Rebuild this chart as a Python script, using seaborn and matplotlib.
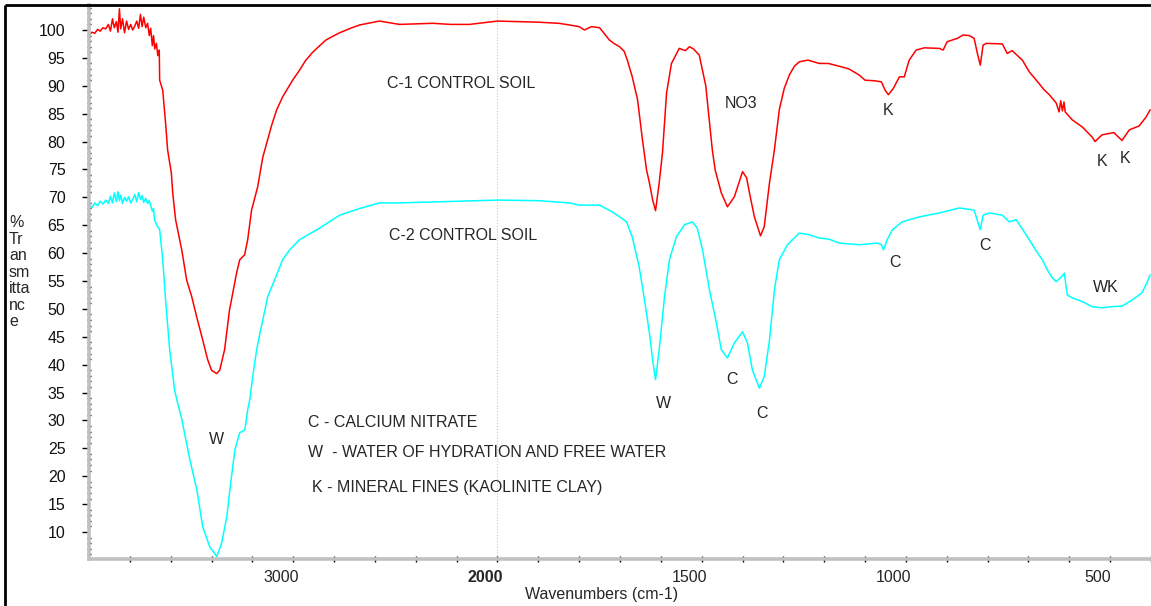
import numpy as np
import pandas as pd
import matplotlib
matplotlib.use("Agg")
import matplotlib.pyplot as plt
from matplotlib.lines import Line2D
from matplotlib.ticker import FixedLocator
from matplotlib.transforms import ScaledTranslation
import seaborn as sns

# ---------------- data ----------------
c1_wavenumber = [3998, 3985, 3972, 3958, 3945, 3932, 3918, 3905, 3895, 3885, 3876, 3866, 3858, 3851,
                 3845, 3836, 3826, 3816, 3806, 3796, 3786, 3776, 3766, 3757, 3748, 3740, 3732, 3722,
                 3713, 3705, 3698, 3690, 3684, 3678, 3670, 3663, 3656, 3654, 3639, 3625, 3615, 3597,
                 3590, 3576, 3546, 3522, 3497, 3473, 3443, 3419, 3400, 3375, 3360, 3336, 3312, 3277,
                 3262, 3238, 3223, 3204, 3174, 3149, 3130, 3105, 3081, 3052, 3003, 2969, 2940, 2905,
                 2870, 2840, 2810, 2773, 2720, 2675, 2620, 2577, 2530, 2480, 2400, 2318, 2230, 2137,
                 2070, 2000, 1946, 1900, 1850, 1824,
                 1800, 1787, 1770, 1750, 1740, 1726, 1715, 1701, 1690, 1682, 1670, 1657, 1645, 1635,
                 1628, 1620, 1613, 1604, 1596, 1586, 1574, 1555, 1540, 1530, 1520, 1506, 1490, 1474,
                 1467, 1452, 1437, 1420, 1400, 1390, 1383, 1371, 1356, 1347, 1334, 1322, 1310, 1298,
                 1285, 1273, 1261, 1240, 1212, 1190, 1163, 1139, 1114, 1100, 1077, 1060, 1051, 1043,
                 1031, 1016, 1004, 992, 975, 955, 918, 909, 899, 874, 860, 845, 833, 825, 818, 811,
                 803, 764, 752, 740, 715, 698, 690, 674, 662, 649, 632, 625, 621, 617, 613, 610, 593,
                 568, 544, 537, 520, 491, 471, 453, 429, 412, 402]
c1_transmittance = [99.2, 99.6, 99.4, 100.1, 99.8, 100.4, 100.2, 101.0, 99.8, 102.0, 100.4, 101.5, 99.6, 103.8,
                    100.2, 102.0, 99.5, 101.6, 100.1, 101.0, 100.0, 100.7, 101.6, 100.3, 102.8, 100.6, 102.3, 100.4,
                    101.2, 99.0, 100.3, 97.2, 99.0, 96.6, 97.6, 95.4, 96.4, 91.0, 89.2, 83.3, 78.5, 74.4,
                    70.8, 66.0, 60.6, 55.2, 52.2, 48.6, 44.4, 40.9, 39.0, 38.4, 39.0, 42.7, 49.8, 56.5,
                    58.8, 59.7, 62.4, 67.7, 71.9, 77.2, 79.7, 83.0, 85.7, 88.0, 91.0, 92.8, 94.5, 96.0,
                    97.2, 98.2, 98.8, 99.5, 100.3, 100.9, 101.3, 101.6, 101.3, 101.0, 101.1, 101.2, 101.0, 101.0,
                    101.3, 101.6, 101.5, 101.4, 101.2, 100.9,
                    100.6, 100.0, 100.6, 100.4, 99.5, 98.2, 97.6, 97.0, 96.2, 94.6, 91.6, 87.5, 80.3, 74.9,
                    72.6, 69.5, 67.6, 72.6, 78.0, 88.7, 94.0, 96.7, 96.3, 97.0, 96.6, 95.5, 90.0, 78.5,
                    74.9, 70.8, 68.3, 70.1, 74.6, 73.5, 70.8, 66.5, 63.1, 64.7, 72.6, 78.5, 85.7, 89.5,
                    92.0, 93.5, 94.3, 94.6, 94.0, 94.0, 93.5, 93.0, 91.9, 91.0, 90.9, 90.7, 89.2, 88.4,
                    89.5, 91.6, 91.6, 94.6, 96.4, 96.8, 96.7, 96.4, 97.9, 98.5, 99.1, 99.0, 98.5, 95.8, 93.7, 97.3,
                    97.6, 97.5, 95.8, 96.3, 94.6, 92.5, 91.8, 90.4, 89.3, 88.4, 86.9, 85.3, 87.3, 85.5, 87.1, 85.3, 83.9,
                    82.6, 80.8, 80.0, 81.2, 81.6, 80.2, 82.1, 82.8, 84.4, 85.7]

c2_wavenumber = [3998, 3985, 3972, 3958, 3945, 3932, 3918, 3905, 3895, 3885, 3876, 3866, 3858, 3851,
                 3845, 3836, 3826, 3816, 3806, 3796, 3786, 3776, 3766, 3757, 3748, 3740, 3732, 3722,
                 3713, 3705, 3698, 3690, 3684, 3679, 3668, 3654, 3639, 3625, 3605, 3581, 3570, 3545,
                 3506, 3472, 3443, 3408, 3374, 3350, 3325, 3310, 3286, 3262, 3237, 3223, 3213, 3196,
                 3179, 3164, 3149, 3125, 3091, 3052, 3017, 2969, 2870, 2773, 2675, 2577, 2480, 2382,
                 2290, 2186, 2100, 2000, 1900, 1824, 1799, 1750, 1719, 1701, 1684, 1670, 1653, 1640,
                 1628, 1620, 1613, 1604, 1591, 1579, 1562, 1542, 1523, 1511, 1498, 1481, 1464, 1452,
                 1437, 1420, 1400, 1388, 1376, 1359, 1347, 1334, 1322, 1310, 1290, 1261, 1237, 1212,
                 1188, 1163, 1114, 1070, 1060, 1055, 1046, 1033, 1009, 967, 918, 869, 833, 823, 818,
                 811, 796, 764, 747, 730, 698, 682, 666, 654, 642, 632, 620, 612, 608, 605, 593, 568,
                 544, 520, 495, 471, 446, 422, 410, 402]
c2_transmittance = [68.6, 68.2, 69.0, 68.5, 69.3, 68.8, 69.5, 68.9, 70.2, 69.0, 70.8, 69.2, 71.0, 69.4,
                    70.4, 68.9, 70.0, 69.3, 70.1, 69.0, 69.6, 70.5, 69.2, 70.9, 69.6, 70.3, 69.1, 69.8,
                    68.9, 69.4, 68.6, 67.5, 68.0, 66.0, 65.0, 64.2, 58.8, 51.6, 42.7, 35.5, 33.7, 30.1,
                    22.9, 17.6, 10.9, 7.3, 5.6, 8.1, 12.8, 17.6, 24.7, 27.8, 28.3, 31.9, 33.7, 38.5,
                    42.7, 45.5, 48.0, 52.2, 55.2, 58.8, 60.6, 62.4, 64.5, 66.8, 68.0, 69.0, 69.0, 69.1,
                    69.2, 69.3, 69.4, 69.5, 69.4, 69.0, 68.6, 68.6, 67.4, 66.5, 65.6, 62.9, 57.5, 51.6,
                    45.7, 40.8, 37.3, 42.7, 52.2, 58.8, 62.9, 65.1, 65.6, 64.5, 60.6, 53.4, 47.5, 42.7,
                    41.2, 43.9, 45.9, 43.9, 39.1, 35.8, 37.8, 44.4, 53.4, 58.8, 61.5, 63.6, 63.3, 62.7,
                    62.5, 61.8, 61.5, 61.8, 61.5, 60.6, 62.4, 64.2, 65.6, 66.5, 67.2, 68.1, 67.7, 65.4, 64.2,
                    66.8, 67.2, 66.8, 65.6, 66.0, 62.4, 60.5, 58.8, 57.0, 55.6, 54.9, 55.7, 56.4, 54.0, 52.5, 52.0, 51.3,
                    50.4, 50.2, 50.4, 50.5, 51.6, 52.9, 54.7, 56.1]

y_major_ticks = list(range(10, 101, 5))
x_major_ticks = [3000, 2000, 1500, 1000, 500]
x_minor_ticks = [3800, 3600, 3400, 3200, 2800, 2600, 2400, 2200,
                 1900, 1800, 1700, 1600, 1400, 1300, 1200, 1100, 900, 800, 700, 600, 400]
x_tick_labels = ["3000", "2000", "1500", "1000", "500"]

# ---------------- styling ----------------
sns.set_theme(style="white")
plt.rcParams["font.family"] = ["Liberation Sans", "DejaVu Sans"]

df1 = pd.DataFrame({"wn": c1_wavenumber, "T": c1_transmittance})
df2 = pd.DataFrame({"wn": c2_wavenumber, "T": c2_transmittance})

W, H = 1151, 606
fig = plt.figure(figsize=(W / 100, H / 100), dpi=100)
ax = fig.add_axes([89 / W, 47 / H, 1 - 89 / W, 1 - 5 / H - 47 / H])


def fwd(x):
    x = np.asarray(x, dtype=float)
    return np.where(x <= 2000, x, 2000 + (x - 2000) / 2.0)


def inv(y):
    y = np.asarray(y, dtype=float)
    return np.where(y <= 2000, y, 2000 + (y - 2000) * 2.0)


ax.set_xscale("function", functions=(fwd, inv))

sns.lineplot(data=df1, x="wn", y="T", ax=ax, color="#ff0000", lw=1.1,
             sort=False, estimator=None)
sns.lineplot(data=df2, x="wn", y="T", ax=ax, color="#00ffff", lw=1.1,
             sort=False, estimator=None)

ax.set_xlim(4000, 400)
ax.set_ylim(5.16, 104.48)
ax.axvline(2000, color="#c8c8c8", ls=":", lw=0.8, zorder=0)

for s in ["top", "right"]:
    ax.spines[s].set_visible(False)
for s in ["left", "bottom"]:
    ax.spines[s].set_color("#c0c0c0")
    ax.spines[s].set_linewidth(2.6)

ax.xaxis.set_major_locator(FixedLocator(x_major_ticks))
ax.xaxis.set_minor_locator(FixedLocator(x_minor_ticks))
ax.set_xticklabels(x_tick_labels)
ax.yaxis.set_major_locator(FixedLocator(y_major_ticks))
ax.yaxis.set_minor_locator(FixedLocator(list(range(6, 105))))

ax.tick_params(axis="x", which="both", direction="inout", length=4, width=1.0,
               color="black", labelsize=11.5, pad=6, bottom=True)
ax.tick_params(axis="y", which="major", direction="out", length=5, width=1.0,
               color="black", labelsize=11.5, pad=12, left=True)
ax.tick_params(axis="y", which="minor", direction="inout", length=3, width=1.0,
               color="black", left=True)
for lab in ax.get_xticklabels():
    lab.set_transform(lab.get_transform() + ScaledTranslation(-0.12, 0, fig.dpi_scale_trans))
    if lab.get_text() == "2000":
        lab.set_fontweight("bold")
for lab in ax.get_yticklabels():
    lab.set_color("#111111")

ax.set_xlabel("")
ax.set_ylabel("")
ax.grid(False)

# axis titles
fig.text(602 / W, 1 - 595 / H, "Wavenumbers (cm-1)", ha="center", va="center", fontsize=11.5)
fig.text(9 / W, 1 - 215 / H, "%\nTr\nan\nsm\nitta\nnc\ne", ha="left", va="top",
         fontsize=11.5, linespacing=1.13)

# annotations (data coordinates)
fs = 11.5
ax.text(2176, 90.4, "C-1 CONTROL SOIL", ha="center", va="center", fontsize=fs)
ax.text(2166, 63.1, "C-2 CONTROL SOIL", ha="center", va="center", fontsize=fs)
ax.text(1403, 86.9, "NO3", ha="center", va="center", fontsize=fs)
ax.text(1043, 85.5, "K", ha="center", va="center", fontsize=fs)
ax.text(520, 76.5, "K", ha="center", va="center", fontsize=fs)
ax.text(463, 77.0, "K", ha="center", va="center", fontsize=fs)
ax.text(1026, 58.4, "C", ha="center", va="center", fontsize=fs)
ax.text(806, 61.3, "C", ha="center", va="center", fontsize=fs)
ax.text(510, 53.9, "WK", ha="center", va="center", fontsize=fs)
ax.text(1594, 33.1, "W", ha="center", va="center", fontsize=fs)
ax.text(1427, 37.3, "C", ha="center", va="center", fontsize=fs)
ax.text(1352, 31.3, "C", ha="center", va="center", fontsize=fs)
ax.text(3375, 26.5, "W", ha="center", va="center", fontsize=fs)
ax.text(2930, 29.7, "C - CALCIUM NITRATE", ha="left", va="center", fontsize=fs)
ax.text(2930, 24.2, "W  - WATER OF HYDRATION AND FREE WATER", ha="left", va="center", fontsize=fs)
ax.text(2910, 17.9, "K - MINERAL FINES (KAOLINITE CLAY)", ha="left", va="center", fontsize=fs)

# outer frame (top and left edges)
fig.add_artist(Line2D([5 / W, 1], [1 - 5 / H, 1 - 5 / H], transform=fig.transFigure,
                      color="black", lw=2.0, solid_capstyle="butt"))
fig.add_artist(Line2D([5 / W, 5 / W], [0, 1 - 5 / H], transform=fig.transFigure,
                      color="black", lw=2.0, solid_capstyle="butt"))

fig.savefig("out.png", dpi=100)
